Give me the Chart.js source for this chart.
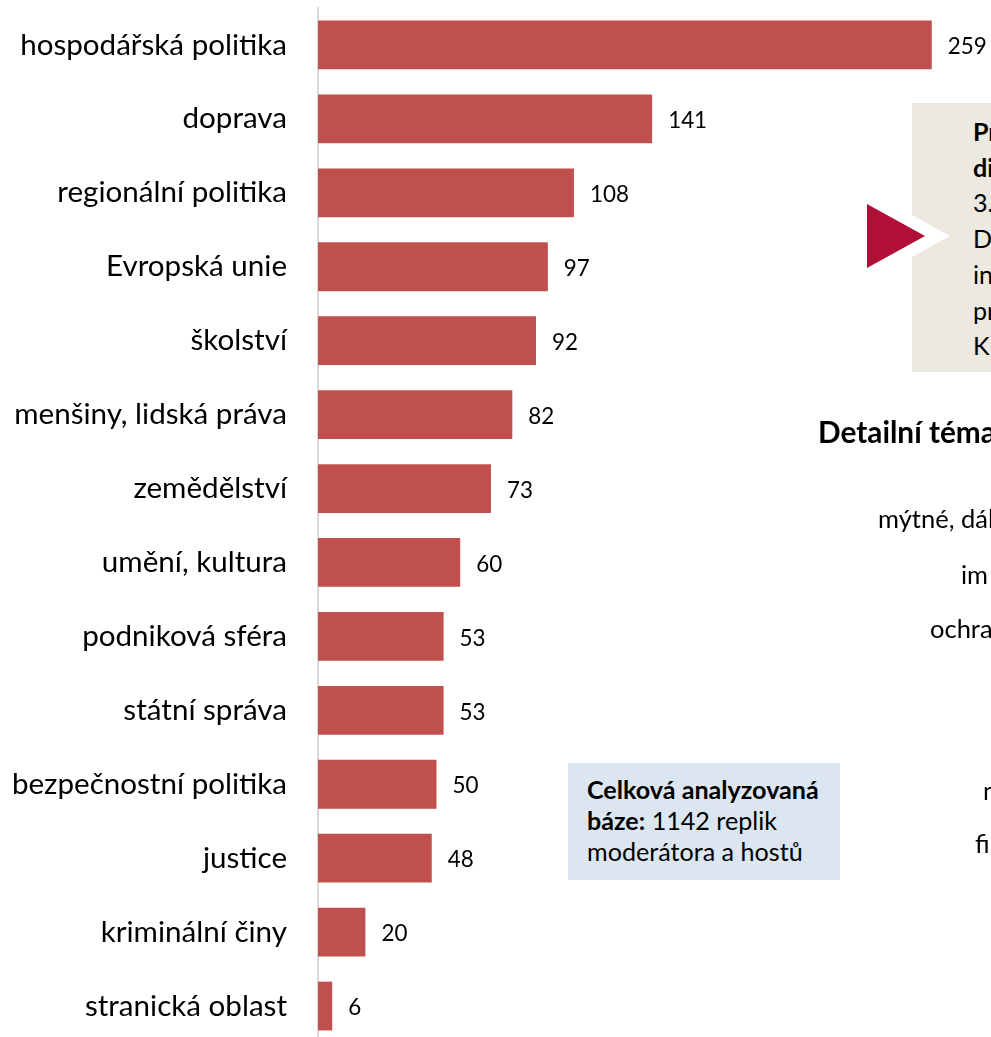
<!DOCTYPE html>
<html><head><meta charset="utf-8">
<script src="https://cdn.jsdelivr.net/npm/chart.js@4/dist/chart.umd.min.js"></script>
<style>
html,body{margin:0;padding:0;overflow:hidden;background:#fff;}
body{width:991px;height:1037px;position:relative;font-family:"Lato",sans-serif;color:#000;}
#wrap{position:absolute;left:0;top:0;width:991px;height:1050px;}
.abs{position:absolute;white-space:nowrap;}
#beige{left:912px;top:103px;width:100px;height:269px;background:#ECE9E0;}
#beigeText{left:973px;top:114px;line-height:35.7px;}
#whiteTri{left:900px;top:215px;width:50px;height:42px;background:#fff;clip-path:polygon(24% 0,100% 50%,24% 100%);}
#redTri{left:867px;top:204px;width:58px;height:64px;background:#B01036;clip-path:polygon(0 0,100% 50%,0 100%);}
#detail{left:818px;top:417px;line-height:30px;font-weight:bold;}
.side{line-height:26px;}
#blue{left:568px;top:763px;width:272px;height:117px;background:#DCE6F1;}
#blueText{left:587px;top:773.5px;line-height:31px;}
</style></head>
<body>
<div id="wrap"><canvas id="c" width="991" height="1050"></canvas></div>
<div class="abs" id="beige"></div>
<div class="abs" id="whiteTri"></div>
<div class="abs" id="redTri"></div>
<div class="abs" id="beigeText"><b>Pr</b><br><b>di</b><br>3.<br>D<br>in<br>pr<br>Kr</div>
<div class="abs" id="detail">Detailní téma</div>
<div class="abs side" style="left:878px;top:505px;">mýtné, dál</div>
<div class="abs side" style="left:961px;top:561px;">im</div>
<div class="abs side" style="left:930px;top:615px;">ochra</div>
<div class="abs side" style="left:983px;top:777px;">n</div>
<div class="abs side" style="left:975px;top:830px;">fi</div>
<div class="abs" id="blue"></div>
<div class="abs" id="blueText"><b>Celková analyzovaná</b><br><b>báze:</b> 1142 replik<br>moderátora a hostů</div>
<script>
const categories = ["hospodářská politika","doprava","regionální politika","Evropská unie","školství","menšiny, lidská práva","zemědělství","umění, kultura","podniková sféra","státní správa","bezpečnostní politika","justice","kriminální činy","stranická oblast"];
const values = [259,141,108,97,92,82,73,60,53,53,50,48,20,6];

const FAMILY = 'Lato';
const mctx = document.createElement('canvas').getContext('2d');
function fitSize(text, weight, target){
  mctx.font = weight + ' 100px "' + FAMILY + '"';
  return 100 * target / mctx.measureText(text).width;
}
const labelSize = fitSize('hospodářská politika', 'normal', 267);
const valueSize = fitSize('259', 'normal', 39);
const blueSize = fitSize('Celková analyzovaná', 'bold', 232);
const detailSize = fitSize('Detailní téma', 'bold', 178);
const sideSize = fitSize('mýtné, dál', 'normal', 116);
document.getElementById('blueText').style.fontSize = blueSize + 'px';
document.getElementById('beigeText').style.fontSize = blueSize + 'px';
document.getElementById('detail').style.fontSize = detailSize + 'px';
document.querySelectorAll('.side').forEach(e=>e.style.fontSize = sideSize + 'px');

const valueLabels = {
  id:'valueLabels',
  afterDatasetsDraw(chart){
    const ctx = chart.ctx;
    const meta = chart.getDatasetMeta(0);
    ctx.save();
    ctx.font = valueSize + 'px "' + FAMILY + '"';
    ctx.fillStyle = '#000';
    ctx.textBaseline = 'middle';
    ctx.textAlign = 'left';
    meta.data.forEach((bar,i)=>{
      ctx.fillText(String(values[i]), bar.x + 16, bar.y + 2);
    });
    ctx.restore();
  }
};

new Chart(document.getElementById('c'), {
  type:'bar',
  data:{labels:categories, datasets:[{data:values, backgroundColor:'#C0504D', barPercentage:0.66, categoryPercentage:1}]},
  options:{
    indexAxis:'y', responsive:false, animation:false,
    layout:{padding:{top:8,bottom:7,left:0,right:0}},
    plugins:{legend:{display:false}, tooltip:{enabled:false}},
    scales:{
      x:{display:false, min:0, max:284},
      y:{
        grid:{display:false, drawTicks:false},
        border:{display:true, color:'#D9D9D9', width:2},
        ticks:{font:{family:FAMILY, size:labelSize}, color:'#000', padding:31},
        afterFit(s){ s.width = 318; s.paddingTop = 0; s.paddingBottom = 0; }
      }
    }
  },
  plugins:[valueLabels]
});
</script>
</body></html>
